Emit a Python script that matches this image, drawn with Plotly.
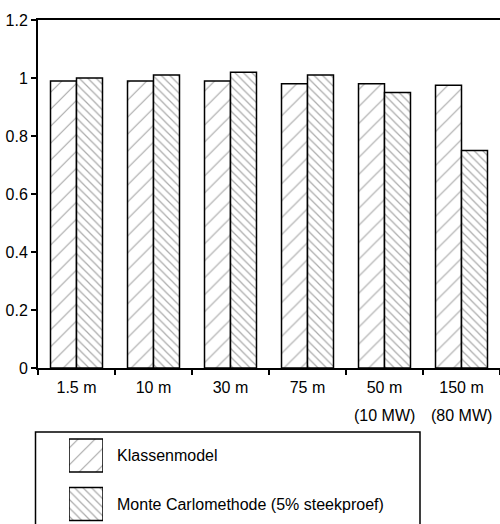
import plotly.graph_objects as go

categories = ["1.5 m", "10 m", "30 m", "75 m", "50 m", "150 m"]
sublabels = ["", "", "", "", "(10 MW)", "(80 MW)"]
klassen = [0.99, 0.99, 0.99, 0.98, 0.98, 0.975]
monte = [1.00, 1.01, 1.02, 1.01, 0.95, 0.75]
series_names = ["Klassenmodel", "Monte Carlomethode (5% steekproef)"]
y_ticks = [0, 0.2, 0.4, 0.6, 0.8, 1, 1.2]

FONT = "Liberation Sans, Arial, sans-serif"
FS = 16
W, H = 500, 524
L = 38

def px_x(p):
    return (p - L) / (W - L)

def px_y(p):
    return 1 - p / H

pat_k = dict(shape="/", size=12, solidity=0.1, fgcolor="#555555", bgcolor="white", fillmode="overlay")
pat_m = dict(shape="\\", size=6, solidity=0.2, fgcolor="#555555", bgcolor="white", fillmode="overlay")
line = dict(color="black", width=1.5)
tfont = dict(family=FONT, size=FS, color="black")

fig = go.Figure()
fig.add_trace(go.Bar(x=categories, y=klassen, name=series_names[0], showlegend=False,
                     marker=dict(color="white", pattern=pat_k, line=line)))
fig.add_trace(go.Bar(x=categories, y=monte, name=series_names[1], showlegend=False,
                     marker=dict(color="white", pattern=pat_m, line=line)))

# legend swatches drawn as a small bar subplot
fig.add_trace(go.Bar(orientation="h", y=[series_names[0]], x=[1], xaxis="x2", yaxis="y2",
                     offsetgroup="leg", width=0.68, showlegend=False, hoverinfo="skip",
                     marker=dict(color="white", pattern=pat_k, line=line)))
fig.add_trace(go.Bar(orientation="h", y=[series_names[1]], x=[1], xaxis="x2", yaxis="y2",
                     offsetgroup="leg", width=0.68, showlegend=False, hoverinfo="skip",
                     marker=dict(color="white", pattern=pat_m, line=line)))

annotations = []
for c, s in zip(categories, sublabels):
    if s:
        annotations.append(dict(x=c, xref="x", y=px_y(415), yref="paper", text=s,
                                showarrow=False, font=tfont,
                                xanchor="center", yanchor="middle"))

fig.update_layout(
    width=W, height=H,
    margin=dict(l=L, r=0, t=0, b=0),
    paper_bgcolor="white", plot_bgcolor="white",
    font=tfont,
    barmode="group", bargap=0.325, bargroupgap=0,
    xaxis=dict(domain=[0, 1], type="category", range=[-0.5, 5.5], tickson="boundaries",
               ticks="outside", ticklen=5, tickwidth=1.5, tickcolor="black",
               showline=True, linecolor="black", linewidth=2, mirror=True,
               showgrid=False, zeroline=False, automargin=False, tickfont=tfont,
               ticklabelstandoff=4),
    yaxis=dict(domain=[px_y(368), px_y(20)], range=[0, 1.2], tickvals=y_ticks,
               ticks="outside", ticklen=5, tickwidth=1.5, tickcolor="black",
               showline=True, linecolor="black", linewidth=2,
               showgrid=False, zeroline=False, automargin=False, tickfont=tfont),
    xaxis2=dict(domain=[px_x(69), px_x(103)], range=[0, 1], anchor="y2",
                showticklabels=False, showgrid=False, zeroline=False, showline=False, ticks=""),
    yaxis2=dict(domain=[0, px_y(431.25)], anchor="x2", type="category",
                categoryorder="array", categoryarray=series_names, range=[1.41, -0.5],
                side="right", showgrid=False, zeroline=False, showline=False, ticks="",
                ticklabelstandoff=13, automargin=False, tickfont=tfont),
    shapes=[dict(type="rect", xref="paper", yref="paper",
                 x0=px_x(35.5), x1=px_x(420), y0=px_y(540), y1=px_y(432),
                 line=dict(color="black", width=1.5), fillcolor="rgba(0,0,0,0)", layer="below")],
    annotations=annotations,
)

fig.write_html("out.html", config={"displayModeBar": False},
               post_script="document.body.style.margin='0';document.body.style.overflow='hidden';")
